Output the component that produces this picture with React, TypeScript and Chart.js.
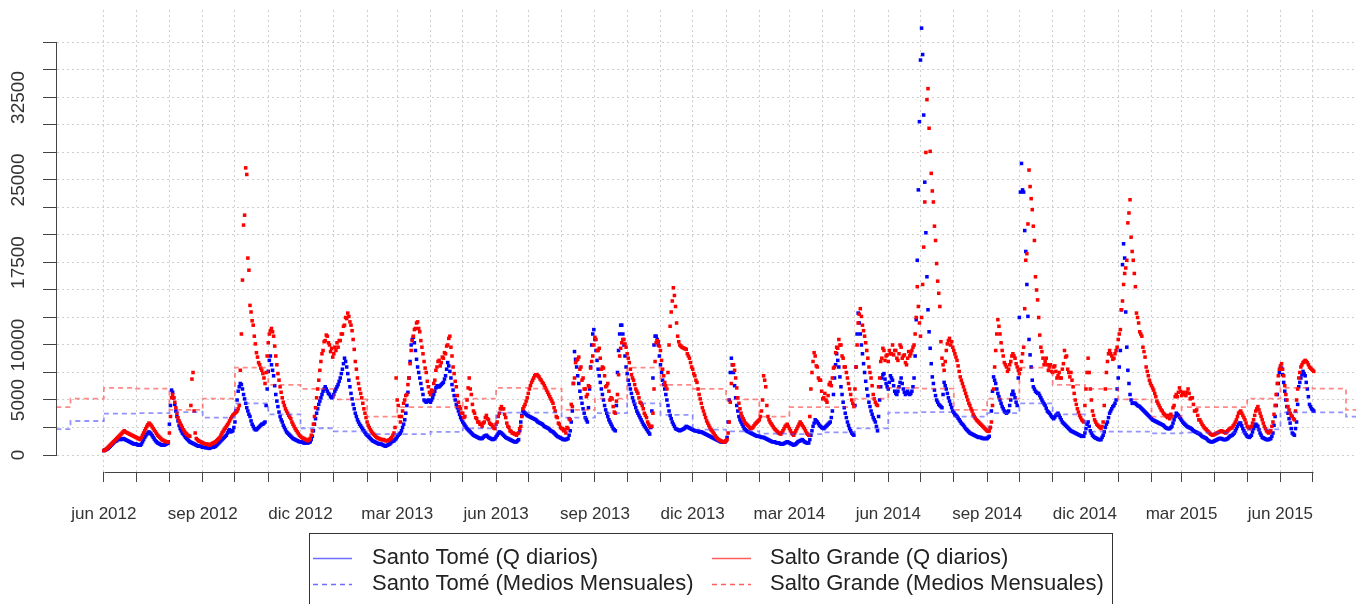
import React, { useEffect, useRef } from 'react';
import { Chart, registerables } from 'chart.js';

Chart.register(...registerables);

// ---------- DATA ----------
const DAILY_START = '2012-06-01';
const DAILY_STEP_DAYS = 1;

// Santo Tomé, caudal diario (m3/s) desde 2012-06-01 (una línea = 30 días)
const santoTomeDaily = [
  400,450,500,550,600,700,800,900,1000,1100,1200,1250,1300,1400,1500,1450,1400,1450,1500,1450,1400,1350,1300,1250,1200,1150,1100,1050,1000,1000,
  1000,950,900,900,900,1000,1200,1400,1600,1750,1900,2000,2100,2000,1900,1750,1600,1450,1300,1200,1100,1050,1000,950,900,900,900,950,1000,1050,
  1100,2800,4500,5900,5700,5200,4600,4000,3500,3100,2700,2400,2200,2000,1900,1750,1600,1500,1400,1300,1200,1150,1100,1050,1000,950,900,850,800,800,
  800,750,700,700,700,650,700,650,600,650,700,700,700,750,800,900,1000,1100,1200,1300,1400,1500,1600,1700,1800,2000,2200,2300,2100,2150,
  2200,2500,3000,4000,5000,5800,6200,6500,6400,6000,5500,5100,4700,4300,4000,3700,3500,3100,2800,2600,2400,2300,2300,2400,2500,2600,2700,2800,2800,2900,
  3000,4500,6000,7600,8600,9000,8200,7700,7200,6300,5500,4900,4400,3900,3500,3200,3000,2700,2500,2300,2100,2000,1900,1800,1700,1600,1500,1450,1400,1350,
  1300,1250,1200,1200,1200,1150,1100,1100,1100,1100,1100,1150,1200,1400,1700,2200,2800,3300,3800,4200,4600,4900,5200,5500,5800,6000,6200,6000,5800,5600,
  5500,5300,5200,5300,5500,5800,6000,6200,6400,6700,7000,7400,7800,8300,8800,8500,8000,7400,6800,6200,5600,5100,4600,4200,3800,3500,3200,3000,2800,2650,
  2500,2350,2200,2050,1900,1800,1700,1600,1500,1400,1300,1250,1200,1150,1100,1050,1000,1000,1000,950,900,850,800,850,900,950,1000,1100,1200,1250,
  1300,1400,1500,1650,1800,1900,2000,2200,2500,2800,3200,3800,4500,5700,7000,8500,10000,10500,10700,10200,9500,8700,8000,7500,7000,6500,6000,5500,5000,4900,
  4800,4900,5000,4900,4800,5000,5200,5500,5800,6100,6300,6200,6200,6300,6400,6500,6600,6900,7200,7800,8400,8100,7600,7000,6400,5900,5400,5000,4600,4300,
  4000,3700,3400,3200,3000,2850,2700,2550,2400,2300,2200,2100,2000,1900,1800,1750,1700,1650,1600,1550,1500,1500,1500,1600,1700,1750,1800,1700,1600,1550,
  1500,1450,1400,1450,1500,1650,1800,1950,2100,2050,2000,1900,1800,1700,1600,1550,1500,1450,1400,1350,1300,1250,1200,1200,1200,1300,1400,2200,3000,3600,
  4000,3900,3800,3700,3600,3550,3500,3450,3400,3350,3300,3250,3200,3100,3000,2950,2900,2850,2800,2700,2600,2550,2500,2450,2400,2300,2200,2150,2100,2000,
  1900,1800,1700,1650,1600,1550,1500,1450,1400,1400,1400,1450,1500,1800,2200,3000,4000,6500,9400,8700,8000,7200,6500,5800,5200,4700,4200,3800,3400,3200,
  3000,4300,6000,8000,10000,11000,11400,10500,9500,8600,7800,7200,6600,6000,5500,5000,4500,4100,3800,3500,3200,3000,2800,2600,2400,2300,2200,4500,7500,9500,
  11000,11800,11800,11000,10000,9000,8000,7400,6800,6400,6000,5600,5200,4900,4600,4300,4000,3800,3600,3400,3200,3000,2800,2650,2500,2350,2200,2050,1900,2500,
  4000,7000,10000,10800,10800,10500,10000,9000,8200,7500,6800,6400,6000,5500,5000,4500,4000,3600,3300,3000,2800,2600,2400,2350,2300,2250,2200,2250,2300,2350,
  2400,2500,2600,2550,2500,2450,2400,2350,2300,2250,2200,2200,2200,2150,2100,2100,2100,2050,2000,1950,1900,1850,1800,1750,1700,1650,1600,1550,1500,1450,
  1400,1350,1300,1250,1200,1200,1200,1200,1200,1300,1600,3000,5000,7500,8800,8200,7500,6300,5200,4500,4000,3500,3200,3000,2800,2600,2400,2300,2200,2150,
  2100,2050,2000,1950,1900,1850,1800,1750,1700,1700,1700,1650,1600,1600,1600,1550,1500,1450,1400,1350,1300,1250,1200,1200,1200,1150,1100,1100,1100,1050,
  1000,1000,1000,1050,1100,1150,1200,1150,1100,1050,1000,950,900,950,1000,1100,1200,1250,1300,1350,1400,1300,1200,1150,1100,1100,1100,1400,1800,2200,
  2600,2900,3200,3100,3000,2850,2700,2600,2500,2450,2400,2500,2600,2700,2800,2900,3000,3400,4000,5500,7000,8200,9200,8600,8000,7100,6200,5500,4800,4300,
  3800,3400,3000,2700,2400,2200,2000,1900,1800,4500,8000,11000,12900,12000,11000,10000,9200,8300,7500,6700,6000,5400,4800,4400,4000,3700,3400,3200,3000,2600,
  2200,3500,5000,6200,7000,7300,7400,6900,6500,6200,6000,6600,7200,7000,6800,6300,5800,5600,5500,5800,6200,6600,7000,6500,6000,5700,5500,5600,5800,5600,
  5500,5600,5800,6200,7000,9000,12300,17700,24100,30300,35900,38800,36400,30900,24800,20200,16200,13200,11200,9700,8300,7100,6500,5900,5400,5000,4800,4600,4500,4400,
  4300,5500,6600,6300,6000,5600,5200,4900,4600,4300,4000,3850,3700,3600,3500,3350,3200,3050,2900,2800,2700,2550,2400,2300,2200,2100,2000,1950,1900,1850,
  1800,1750,1700,1650,1600,1600,1600,1550,1500,1500,1500,1500,1500,1600,1700,2500,4000,5800,7100,6800,6500,6000,5600,5300,5000,4700,4400,4200,4000,3900,
  3800,3900,4000,4500,5000,5500,5800,5500,5200,4800,4500,7000,12500,23900,26500,24100,23900,20400,18500,15500,12600,10500,9100,8000,6800,6200,6000,5800,5700,5600,
  5600,5400,5200,5000,4800,4650,4500,4250,4000,3900,3800,3650,3500,3400,3300,3450,3600,3700,3800,3600,3400,3200,3000,2900,2800,2700,2600,2500,2400,2300,
  2200,2150,2100,2050,2000,1950,1900,1850,1800,1750,1700,1700,1700,2000,2400,2800,3000,2600,2200,2000,1800,1700,1600,1550,1500,1450,1400,1400,1400,1600,
  1800,2100,2500,2800,3000,3400,3800,4000,4200,4400,4500,4700,5000,6000,7000,8000,9500,13200,17300,19200,17900,13000,9800,7700,6500,5500,5000,4700,4700,4700,
  4700,4600,4500,4450,4400,4300,4200,4100,4000,3900,3800,3700,3600,3500,3400,3300,3200,3150,3100,3050,3000,2950,2900,2850,2800,2750,2700,2600,2500,2450,
  2400,2400,2400,2500,2600,2900,3200,3500,3800,3700,3600,3450,3300,3150,3000,2900,2800,2700,2600,2550,2500,2450,2400,2300,2200,2150,2100,2050,2000,1950,
  1900,1800,1700,1650,1600,1550,1500,1400,1300,1250,1200,1200,1200,1250,1300,1350,1400,1450,1500,1500,1500,1450,1400,1400,1400,1450,1500,1600,1700,1750,
  1800,1900,2000,2200,2400,2600,2800,2900,2900,2650,2400,2200,2000,1850,1700,1650,1600,1700,1800,2100,2400,2600,2800,2700,2600,2300,2000,1800,1600,1550,
  1500,1450,1400,1400,1400,1450,1500,1700,2000,2700,3500,4500,5500,6500,7500,7900,7900,7300,6600,5800,5000,4400,3800,3300,2900,2400,2000,1900,1800,2400,
  3000,4600,6200,6600,7000,7300,7600,7400,7200,6600,6000,5300,4600,4400,4200,4100,4000,
];

// Salto Grande, caudal diario (m3/s) desde 2012-06-01 (una línea = 30 días)
const saltoGrandeDaily = [
  400,450,500,600,700,800,900,1000,1100,1200,1300,1400,1500,1600,1700,1800,1900,2000,2100,2200,2100,2050,2000,1950,1900,1850,1800,1750,1700,1650,
  1600,1550,1500,1450,1400,1600,1800,2000,2200,2400,2600,2750,2900,2800,2700,2550,2400,2250,2100,1950,1800,1700,1600,1500,1400,1350,1300,1250,1200,1200,
  1200,2000,3500,5200,5500,5200,4800,4300,3800,3400,3100,2900,2700,2500,2300,2150,2000,1900,1800,1750,1700,4500,6900,7500,4000,2000,1500,1400,1300,1250,
  1200,1150,1100,1050,1000,1000,1000,950,900,950,1000,1050,1100,1150,1200,1300,1400,1500,1600,1800,2000,2150,2300,2450,2600,2750,2900,3100,3300,3450,
  3600,3700,3800,3900,4000,4200,4500,7700,11000,15900,20900,21800,26100,25500,17900,16800,13600,13000,12200,11800,10800,10100,9300,8900,8400,8200,7900,7700,7400,7000,
  6500,7500,9000,10200,11000,11300,11500,11200,10800,9900,9000,8200,7400,6800,6200,5700,5200,4800,4500,4200,4000,3800,3600,3450,3300,3000,2800,2600,2400,2250,
  2100,1950,1800,1700,1600,1550,1500,1450,1400,1350,1300,1400,1500,1800,2200,2800,3500,4300,5200,6000,6800,7700,8500,9200,9500,10300,10400,10900,10800,10200,
  10000,9400,9700,8900,9200,9800,9500,10200,9800,10400,10400,11000,11000,11700,11800,12500,12400,12900,12600,12100,11800,11300,10500,9600,8500,7800,7000,6500,6000,5600,
  5200,4700,4200,3800,3400,3000,2700,2500,2300,2150,2000,1900,1800,1700,1600,1550,1500,1450,1400,1400,1400,1350,1300,1300,1300,1350,1400,1500,1600,1800,
  2000,2500,7000,5000,4500,3500,3000,3500,4000,4700,5000,5400,5500,6400,7000,8300,9500,10400,10800,11400,11500,12000,12100,11500,11200,10400,9800,9200,8500,7900,
  7500,6700,6200,5700,5500,5900,5800,6500,6800,7700,8000,8500,8600,8100,8400,8900,8800,9300,9200,9900,10000,10600,10800,9800,9000,8000,7400,6700,6200,5400,
  4800,4400,4200,3800,3800,3400,3500,4300,5000,6100,7000,6000,5500,4600,4000,3800,3400,3300,3000,3000,2800,2800,2600,2900,3000,3400,3600,3300,3200,2900,
  2800,2750,2600,2450,2400,2800,3000,3500,3800,4200,4400,4200,4200,3700,3400,2900,2600,2500,2200,2150,2000,2000,1900,1900,1800,1950,2000,2400,2600,3500,
  4200,4400,4600,4900,5200,5600,6000,6300,6600,6800,7000,7200,7300,7300,7200,7100,6900,6800,6600,6500,6300,6100,5900,5700,5500,5300,5100,4900,4700,4300,
  4000,3500,3400,2900,2800,2500,2400,2400,2200,2300,2000,2500,2400,3300,3200,4600,4400,6500,7000,8400,8600,8700,8900,7800,8000,6800,7000,6000,6000,5300,
  5500,6300,6200,7900,8500,9000,10000,10700,10500,9500,9500,9700,8800,7800,8000,7900,7200,6200,6300,6500,5800,5000,5200,5100,4400,3900,3800,4900,5500,7300,
  9000,9700,10200,10500,10500,10100,9800,9200,8800,8400,7800,7300,7000,6800,6400,6000,5800,5600,5200,4800,4700,4500,4200,3800,3600,3400,3000,2800,2600,2600,
  2600,3800,6000,8500,10200,10400,10300,9900,9500,8600,7800,7200,6600,6300,6000,7500,10000,11700,13000,14000,15200,14500,13500,12000,10800,10300,10000,9900,9800,9750,
  9700,9650,9600,9200,9000,8800,8400,8000,7800,7400,7200,6800,6600,6000,5500,5100,4700,4300,4000,3700,3400,3100,2900,2700,2500,2300,2200,2050,1900,1750,
  1600,1500,1400,1350,1300,1250,1200,1200,1200,1300,1400,2000,3000,4800,6500,8200,8200,7700,7000,6100,5200,4700,4200,3800,3500,3300,3100,2900,2800,2700,
  2600,2500,2400,2450,2500,2650,2800,2900,3000,3100,3200,3500,4000,5000,7200,6800,6200,4500,3500,3200,3000,2850,2700,2550,2400,2300,2200,2100,2000,1950,
  1900,2050,2200,2400,2600,2700,2800,2600,2400,2200,2000,1900,1800,2000,2200,2400,2600,2800,3000,2850,2700,2550,2400,2200,2000,1900,1800,3500,6000,7500,
  8500,9300,9000,8100,8000,7000,6800,6800,5800,5100,5200,5600,5000,4800,5400,6400,6600,6300,7000,7900,8000,9300,9800,9700,10500,10000,10000,9000,8800,8000,
  8000,7500,7000,6500,6000,5500,5000,4700,4400,6000,8000,10000,12000,12800,13300,12600,11800,11300,10800,10200,9500,8800,8000,7500,7000,6300,5500,5100,4800,4600,
  4500,6200,7000,8500,8800,9700,9500,8600,9000,9100,8500,9500,9200,9200,10000,9100,9500,9500,8800,8600,9200,10000,9800,8800,9000,9100,8400,8200,8800,9400,
  9000,9200,9500,9800,10000,11000,12500,15300,13500,12000,10800,12500,15500,18900,23000,27500,32300,33300,29700,27600,25600,24000,23000,20800,19500,17400,15800,14700,13500,10300,
  8800,8200,7700,8500,9500,10100,10400,10600,10000,10300,9800,9500,9200,8900,8600,8100,7600,7100,6800,6500,6200,5900,5600,5300,5000,4700,4500,4200,4000,3700,
  3500,3350,3200,3100,3000,2900,2800,2700,2600,2500,2400,2300,2200,2150,2200,2500,3000,4500,6000,8000,9500,11000,12300,11700,11000,10200,9500,9000,8400,8200,
  8000,7600,7800,8200,8500,9000,9200,9000,8800,8300,8000,7700,7400,7800,8500,9200,9800,13300,17700,18300,21000,25900,24400,23300,22300,20800,19500,16200,15000,14100,
  12500,10900,9800,9400,8800,8200,8500,8800,8200,7700,8000,8200,7600,7500,8000,8100,7600,7000,7200,7500,7000,7000,7800,8300,9500,8900,9000,7800,7500,7100,
  7500,6800,6200,5600,5000,4600,4200,3900,3600,3400,3200,3100,3000,4500,6000,7500,8800,7500,6000,5000,4000,3600,3200,3000,2800,2700,2600,2500,2400,2600,
  3000,4500,6000,7500,8500,9200,9500,9200,9000,8700,8800,9200,9500,9800,10500,11000,11400,13200,14000,15500,16500,17000,17700,21100,22000,23200,19800,18500,17700,16500,
  15300,12900,12500,12000,11200,11000,10800,9800,9400,8900,8000,7600,7200,6800,6500,6300,6100,5900,5600,5300,4900,4700,4500,4300,4100,4000,3800,3700,3600,3500,
  3400,3600,3300,3700,3500,4300,4500,5300,5500,5300,5700,6100,5800,5400,5600,5700,5500,5400,5700,6000,5600,5100,5200,5200,4600,4000,4000,4100,3600,3200,
  3200,3000,2800,2650,2500,2400,2300,2200,2100,2000,1900,1850,1800,1850,1900,1950,2000,2050,2100,2150,2200,2150,2100,2050,2000,2100,2200,2300,2400,2450,
  2500,2650,2800,3000,3200,3500,3800,3900,4000,3800,3600,3400,3200,2900,2600,2500,2400,2500,2600,2900,3200,3600,4000,4200,4400,4100,3800,3500,3200,2900,
  2600,2400,2200,2100,2000,2100,2200,2600,3000,3700,4500,5500,6500,7200,7800,8100,8300,7800,7200,6300,5500,5000,4400,4100,3800,3600,3500,3300,3200,4000,
  5000,6000,7000,7500,8000,8200,8400,8500,8600,8500,8400,8200,8000,7900,7800,7700,7600,
];

// Medios mensuales
const monthlyMonths = [
  '2012-04','2012-05','2012-06','2012-07','2012-08','2012-09','2012-10','2012-11','2012-12',
  '2013-01','2013-02','2013-03','2013-04','2013-05','2013-06','2013-07','2013-08','2013-09','2013-10','2013-11','2013-12',
  '2014-01','2014-02','2014-03','2014-04','2014-05','2014-06','2014-07','2014-08','2014-09','2014-10','2014-11','2014-12',
  '2015-01','2015-02','2015-03','2015-04','2015-05','2015-06','2015-07','2015-08','2015-09',
];
const santoTomeMonthly = [
  2360,3090,3760,3800,3900,3400,4700,3700,2430,
  2150,1900,1900,2100,2420,3850,3850,3400,3800,4700,3650,2300,
  2150,1950,1900,2050,2420,3850,3900,3480,3800,4700,3700,2120,
  2120,1970,2030,2030,2330,3880,3880,3480,3800,
];
const saltoGrandeMonthly = [
  4350,5120,6100,6030,4100,5120,7950,6370,6020,
  5060,3490,4350,4350,5120,6100,6030,4100,5120,7950,6370,6020,
  5060,3490,4350,4350,5120,6100,6030,4100,5120,7950,6370,6020,
  5060,3490,4350,4350,5120,6100,6030,4100,5120,
];

// Ejes
const axisTickMonths = [
  '2012-06','2012-07','2012-08','2012-09','2012-10','2012-11','2012-12',
  '2013-01','2013-02','2013-03','2013-04','2013-05','2013-06','2013-07','2013-08','2013-09','2013-10','2013-11','2013-12',
  '2014-01','2014-02','2014-03','2014-04','2014-05','2014-06','2014-07','2014-08','2014-09','2014-10','2014-11','2014-12',
  '2015-01','2015-02','2015-03','2015-04','2015-05','2015-06','2015-07',
];
const axisLabelMonths = ['2012-06','2012-09','2012-12','2013-03','2013-06','2013-09','2013-12','2014-03','2014-06','2014-09','2014-12','2015-03','2015-06'];
const axisLabelTexts = ['jun 2012','sep 2012','dic 2012','mar 2013','jun 2013','sep 2013','dic 2013','mar 2014','jun 2014','sep 2014','dic 2014','mar 2015','jun 2015'];
const yTickValues = [0,2500,5000,7500,10000,12500,15000,17500,20000,22500,25000,27500,30000,32500,35000,37500];
const yLabelValues = [0,5000,10000,17500,25000,32500];

const legendTexts = [
  'Santo Tomé (Q diarios)',
  'Santo Tomé (Medios Mensuales)',
  'Salto Grande (Q diarios)',
  'Salto Grande (Medios Mensuales)',
];

// ---------- HELPERS ----------
const MS_DAY = 86400000;
const baseMs = Date.parse(DAILY_START + 'T00:00:00Z');
const monthToDay = (m: string) => (Date.parse(m + '-01T00:00:00Z') - baseMs) / MS_DAY;

const X_MIN = -43.6;
const X_MAX = 1165.3;
const Y_MIN = -1545;
const Y_MAX = 40450;

const FONT = '"Liberation Sans", Arial, Helvetica, sans-serif';

const BLUE = '#0000ff';
const RED = '#ff0000';
const BLUE_DASH = 'rgba(60,60,255,0.55)';
const RED_DASH = 'rgba(255,40,40,0.55)';
const BLUE_LEG = 'rgba(60,60,255,0.75)';
const RED_LEG = 'rgba(255,40,40,0.75)';

const rStylePlugin = {
  id: 'rStyle',
  afterDraw(chart: any) {
    const { ctx, chartArea, scales } = chart;
    const xs = scales.x;
    const ys = scales.y;
    ctx.save();
    ctx.setLineDash([]);
    ctx.strokeStyle = '#444';
    ctx.lineWidth = 1;
    const ax = Math.round(chartArea.left) - 0.5;
    ctx.beginPath();
    ctx.moveTo(ax, Math.round(ys.getPixelForValue(yTickValues[0])) + 0.5);
    ctx.lineTo(ax, Math.round(ys.getPixelForValue(yTickValues[yTickValues.length - 1])) + 0.5);
    ctx.stroke();
    const ay = Math.round(chartArea.bottom) + 0.5;
    ctx.beginPath();
    ctx.moveTo(Math.round(xs.getPixelForValue(monthToDay(axisTickMonths[0]))) + 0.5, ay);
    ctx.lineTo(Math.round(xs.getPixelForValue(monthToDay(axisTickMonths[axisTickMonths.length - 1]))) + 0.5, ay);
    ctx.stroke();
    ctx.fillStyle = '#333';
    ctx.font = '19px ' + FONT;
    ctx.textAlign = 'center';
    ctx.textBaseline = 'middle';
    for (const v of yLabelValues) {
      const py = ys.getPixelForValue(v);
      ctx.save();
      ctx.translate(19, py);
      ctx.rotate(-Math.PI / 2);
      ctx.fillText(String(v), 0, 0);
      ctx.restore();
    }
    ctx.strokeStyle = '#333';
    ctx.lineWidth = 1;
    ctx.strokeRect(309.5, 533.5, 803, 100);
    const rows = [558, 584];
    const cols = [313, 712];
    const textX = [372, 770];
    const colors = [BLUE_LEG, RED_LEG];
    ctx.font = '22px ' + FONT;
    ctx.textAlign = 'left';
    ctx.textBaseline = 'middle';
    for (let c = 0; c < 2; c++) {
      for (let r = 0; r < 2; r++) {
        ctx.strokeStyle = colors[c];
        ctx.lineWidth = 1.6;
        ctx.setLineDash(r === 0 ? [] : [5, 4]);
        ctx.beginPath();
        ctx.moveTo(cols[c], rows[r] + 0.5);
        ctx.lineTo(cols[c] + 39, rows[r] + 0.5);
        ctx.stroke();
        ctx.setLineDash([]);
        ctx.fillStyle = '#222';
        ctx.fillText(legendTexts[c * 2 + r], textX[c], rows[r]);
      }
    }
    ctx.restore();
  },
};

export default function App() {
  const canvasRef = useRef<HTMLCanvasElement | null>(null);

  useEffect(() => {
    const canvas = canvasRef.current;
    if (!canvas) return;

    const stPoints = santoTomeDaily.map((v, i) => ({ x: i * DAILY_STEP_DAYS, y: v }));
    const sgPoints = saltoGrandeDaily.map((v, i) => ({ x: i * DAILY_STEP_DAYS, y: v }));
    const stMonthly = monthlyMonths.map((m, i) => ({ x: monthToDay(m), y: santoTomeMonthly[i] }));
    const sgMonthly = monthlyMonths.map((m, i) => ({ x: monthToDay(m), y: saltoGrandeMonthly[i] }));
    const tickDays = axisTickMonths.map(monthToDay);
    const labelByDay = new Map<number, string>();
    axisLabelMonths.forEach((m, i) => labelByDay.set(monthToDay(m), axisLabelTexts[i]));

    const pointDs = (label: string, data: any[], color: string, order: number) => ({
      label,
      data,
      showLine: false,
      pointStyle: 'rect',
      pointRadius: 2.5,
      pointBorderWidth: 0,
      pointBackgroundColor: color,
      pointBorderColor: color,
      borderColor: color,
      order,
    });

    const chart = new Chart(canvas, {
      type: 'line',
      data: {
        datasets: [
          {
            label: 'Santo Tomé (Medios Mensuales)',
            data: stMonthly,
            borderColor: BLUE_DASH,
            borderWidth: 1.8,
            borderDash: [5, 4],
            pointRadius: 0,
            stepped: 'before',
            fill: false,
            order: 0,
            clip: 0,
          } as any,
          {
            label: 'Salto Grande (Medios Mensuales)',
            data: sgMonthly,
            borderColor: RED_DASH,
            borderWidth: 1.8,
            borderDash: [5, 4],
            pointRadius: 0,
            stepped: 'before',
            fill: false,
            order: 1,
            clip: 0,
          } as any,
          pointDs('Salto Grande (Q diarios)', sgPoints, RED, 2) as any,
          pointDs('Santo Tomé (Q diarios)', stPoints, BLUE, 3) as any,
        ],
      },
      options: {
        animation: false,
        responsive: false,
        events: [],
        layout: { padding: { top: 10, right: 0, left: 0, bottom: 0 } },
        plugins: {
          legend: { display: false },
          tooltip: { enabled: false },
          title: { display: false },
        },
        scales: {
          x: {
            type: 'linear',
            min: X_MIN,
            max: X_MAX,
            afterBuildTicks: (scale: any) => {
              scale.ticks = tickDays.map((d) => ({ value: d }));
            },
            afterFit: (scale: any) => {
              scale.height = 132;
            },
            ticks: {
              autoSkip: false,
              maxRotation: 0,
              minRotation: 0,
              padding: 22,
              color: '#333',
              font: { family: FONT, size: 17 },
              callback: (value: any) => labelByDay.get(Number(value)) ?? '',
            },
            grid: {
              color: '#cfcfcf',
              lineWidth: 1,
              drawTicks: true,
              tickLength: 10,
              tickColor: '#444',
              tickWidth: 1,
              tickBorderDash: [],
              tickBorderDashOffset: 0,
            },
            border: { display: false, dash: [2, 3] },
          } as any,
          y: {
            type: 'linear',
            min: Y_MIN,
            max: Y_MAX,
            afterBuildTicks: (scale: any) => {
              scale.ticks = yTickValues.map((v) => ({ value: v }));
            },
            afterFit: (scale: any) => {
              scale.width = 57;
            },
            ticks: { display: false },
            grid: {
              color: '#cfcfcf',
              lineWidth: 1,
              drawTicks: true,
              tickLength: 14,
              tickColor: '#444',
              tickWidth: 1,
              tickBorderDash: [],
              tickBorderDashOffset: 0,
            },
            border: { display: false, dash: [2, 3] },
          } as any,
        },
      },
      plugins: [rStylePlugin],
    });

    return () => {
      chart.destroy();
    };
  }, []);

  return (
    <div style={{ position: 'fixed', left: 0, top: 0, width: 1360, height: 604, background: '#fff' }}>
      <canvas ref={canvasRef} width={1360} height={604} style={{ width: 1360, height: 604, display: 'block' }} />
    </div>
  );
}
